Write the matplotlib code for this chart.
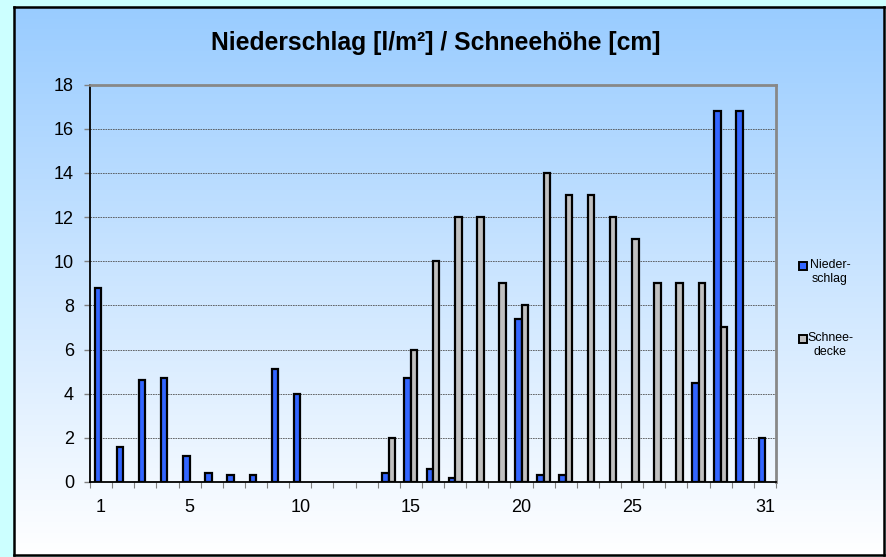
import numpy as np
import matplotlib
matplotlib.use("Agg")
import matplotlib.pyplot as plt
from matplotlib.patches import Rectangle

# ---- data ----
days = list(range(1, 32))
tick_days = [1, 5, 10, 15, 20, 25, 31]
niederschlag = [8.8, 1.6, 4.6, 4.7, 1.2, 0.4, 0.3, 0.3, 5.1, 4.0,
                None, None, None, 0.4, 4.7, 0.6, 0.2, None, None, 7.4,
                0.3, 0.3, None, None, None, None, None, 4.5, 16.8, 16.8, 2.0]
schneedecke = [None] * 13 + [2, 6, 10, 12, 12, 9, 8, 14, 13, 13, 12, 11, 9, 9, 9, 7, None, None]
title = "Niederschlag [l/m²] / Schneehöhe [cm]"
labels = ["Nieder-\nschlag", "Schnee-\ndecke"]

plt.rcParams['font.family'] = ['Liberation Sans', 'DejaVu Sans']

W, H = 887, 557
fig = plt.figure(figsize=(W / 100, H / 100), dpi=100)
fig.patch.set_facecolor('#CCFFFF')

def fx(px):
    return px / W

def fy(py):
    return 1 - py / H

# chart area with gradient
cx0, cy0, cx1, cy1 = 14, 7, 884, 555
bg = fig.add_axes([fx(cx0), fy(cy1), fx(cx1 - cx0), (cy1 - cy0) / H])
top = np.array([0x99, 0xCC, 0xFF]) / 255
bot = np.array([1.0, 1.0, 1.0])
t = np.linspace(0, 1, 256)[:, None]
grad = top[None, :] * (1 - t) + bot[None, :] * t
bg.imshow(grad[:, None, :], aspect='auto', extent=[0, 1, 0, 1], origin='upper')
bg.set_xlim(0, 1)
bg.set_ylim(0, 1)
bg.set_xticks([])
bg.set_yticks([])
for sp in bg.spines.values():
    sp.set_color('black')
    sp.set_linewidth(1.8)
bg.set_zorder(0)

# plot area
px0, py0, px1, py1 = 90, 84.5, 776, 482
ax = fig.add_axes([fx(px0), fy(py1), fx(px1 - px0), (py1 - py0) / H])
ax.set_facecolor('none')
ax.set_zorder(1)

x = np.array(days, dtype=float)
n = np.array([np.nan if v is None else v for v in niederschlag])
s = np.array([np.nan if v is None else v for v in schneedecke])
w = 0.29
ax.bar(x - 0.145, n, width=w, color='#3366FF', edgecolor='black', linewidth=1.6, zorder=3)
ax.bar(x + 0.145, s, width=w, color='#C0C0C0', edgecolor='black', linewidth=1.6, zorder=3)

ax.set_xlim(0.5, 31.5)
ax.set_ylim(0, 18)
ax.set_yticks(np.arange(0, 19, 2))
ax.set_xticks(tick_days)
ax.set_xticks(np.arange(0.5, 32, 1), minor=True)
ax.tick_params(axis='x', which='major', length=0, pad=12, labelsize=13)
ax.tick_params(axis='x', which='minor', length=4, width=0.8, color='#808080', direction='out')
ax.tick_params(axis='y', which='major', length=4.5, width=1, color='#808080', pad=7, labelsize=13)
ax.yaxis.grid(True, linestyle=(0, (2, 1)), color='#505050', linewidth=0.6, zorder=1)
ax.set_axisbelow(True)
ax.spines['left'].set_color('black')
ax.spines['left'].set_linewidth(1.3)
ax.spines['bottom'].set_color('black')
ax.spines['bottom'].set_linewidth(1.3)
ax.spines['top'].set_color('#888888')
ax.spines['top'].set_linewidth(2)
ax.spines['right'].set_color('#888888')
ax.spines['right'].set_linewidth(2)

# title
fig.text(fx(436), fy(50), title, ha='center', va='baseline', fontsize=17.8,
         fontweight='bold', color='black')

# legend (manual, marker aligned with first text line)
entries = [('#3366FF', 266), ('#C0C0C0', 339)]
for (col, ly), lab in zip(entries, labels):
    fig.patches.append(Rectangle((fx(799), fy(ly + 4)), fx(8), 8 / H, transform=fig.transFigure,
                                 facecolor=col, edgecolor='black', linewidth=1.4, zorder=5))
    fig.text(fx(830), fy(ly - 7), lab, ha='center', va='top', fontsize=8.9,
             multialignment='center', linespacing=1.25)

fig.savefig('out.png', dpi=100, facecolor=fig.get_facecolor())
